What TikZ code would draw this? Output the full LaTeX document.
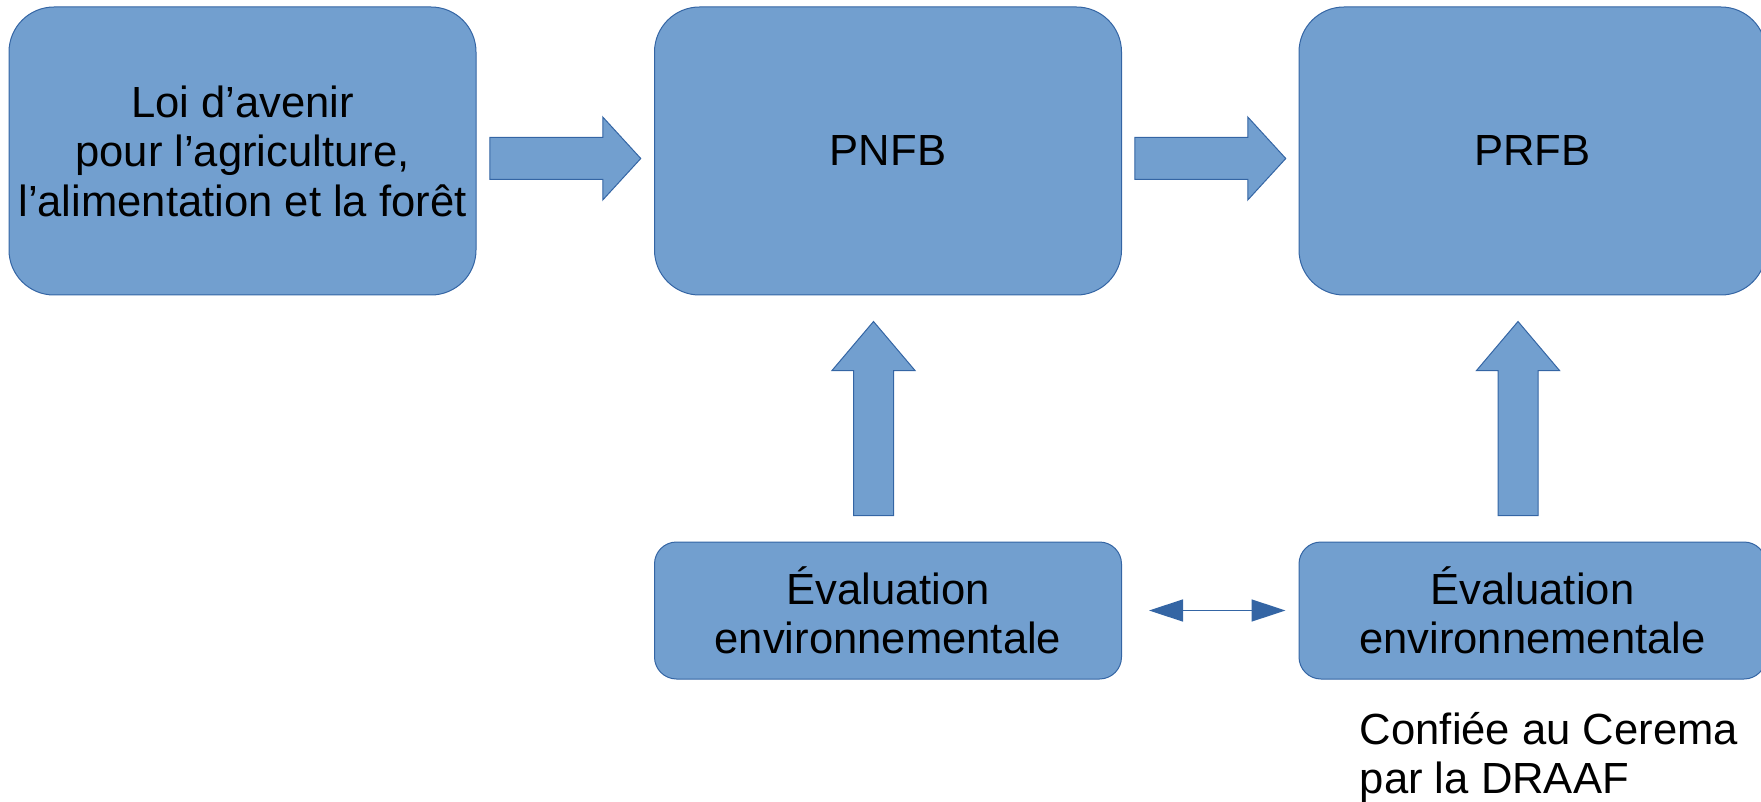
\documentclass[tikz,border=0pt]{standalone}
\usepackage{fontspec}
\setmainfont{Liberation Sans}
\usetikzlibrary{calc,arrows.meta}
\definecolor{bleuclair}{HTML}{729FCF}
\definecolor{bleufonce}{HTML}{3465A4}

\begin{document}
\begin{tikzpicture}[x=0.5pt,y=-0.5pt,
	texte/.style={font=\fontsize{21.8}{24.75}\selectfont,align=center},
	boite/.style={texte,draw=bleufonce,fill=bleuclair,line width=0.5pt,rounded corners=22.5pt,
		minimum width=233.5pt,minimum height=144pt,inner sep=0pt},
	evalbox/.style={boite,rounded corners=11pt,minimum height=68.5pt},
	bloc/.style={draw=bleufonce,fill=bleuclair,line width=0.5pt},
	pics/flecheD/.style={code={
			\draw[bloc] (-75.5,-21) -- (37.5,-21) -- (37.5,-41.5) -- (75.5,0)
			-- (37.5,41.5) -- (37.5,21) -- (-75.5,21) -- cycle;
	}},
	pics/flecheH/.style={code={
			\draw[bloc] (-20,97) -- (-20,-48) -- (-41.5,-48) -- (0,-97)
			-- (41.5,-48) -- (20,-48) -- (20,97) -- cycle;
	}}]
	\useasboundingbox (0,0) rectangle (1761,802);
	\node[boite] (loi) at (242.5,151) {Loi d'avenir\\pour l'agriculture,\\l'alimentation et la forêt};
	\node[boite] (pnfb) at (888,151) {PNFB};
	\node[boite] (prfb) at (1532.5,151) {PRFB};
	\node[evalbox] (evalA) at (888,610.5) {Évaluation\\environnementale};
	\node[evalbox] (evalB) at (1532.5,610.5) {Évaluation\\environnementale};
	% grosses fleches
	\path ($(loi.east)!0.5!(pnfb.west)$) ++(0,7.5) pic{flecheD};
	\path ($(pnfb.east)!0.5!(prfb.west)$) ++(0,7.5) pic{flecheD};
	\path ($(pnfb.south)!0.5!(evalA.north)$) ++(-14.5,0) pic{flecheH};
	\path ($(prfb.south)!0.5!(evalB.north)$) ++(-14.5,0) pic{flecheH};
	\draw[bleufonce,line width=0.75pt,{Triangle[length=17pt,width=11pt]}-{Triangle[length=17pt,width=11pt]}]
	($(evalA.east)+(27,0)$) -- ($(evalB.west)+(-13,0)$);
	\node[texte,align=left,anchor=north west,inner sep=0pt] (confiee) at ($(evalB.south west)+(61,32)$)
	{Confiée au Cerema\\par la DRAAF};
\end{tikzpicture}
\end{document}
